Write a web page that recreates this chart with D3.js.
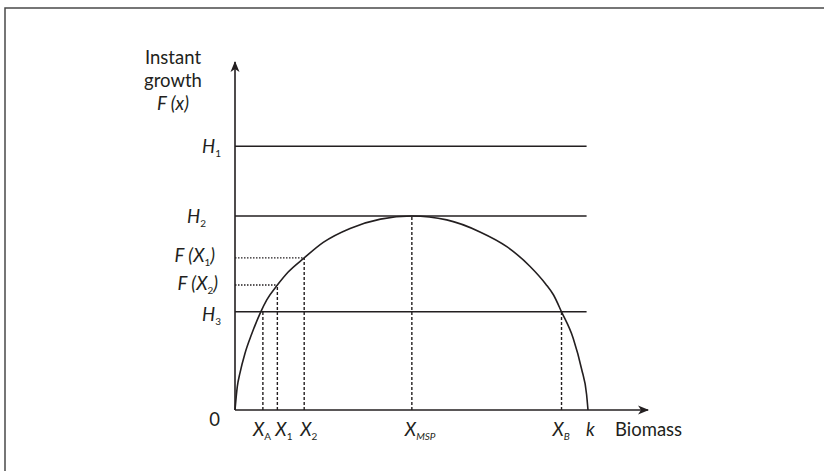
<!DOCTYPE html>
<html>
<head>
<meta charset="utf-8">
<script src="https://cdn.jsdelivr.net/npm/d3@7/dist/d3.min.js"></script>
<style>
  body { margin: 0; background: #fff; }
  svg { display: block; }
  text { font-family: Lato, "Liberation Sans", sans-serif; fill: #231f20; }
</style>
</head>
<body>
<div id="chart"></div>
<script>
// growth curve F(x) (biomass units, k = 100)
var curveX = [0, 0.65, 1.4, 2.8, 4.7, 7.3, 9, 12, 15, 19.6, 25, 32.6, 41.2, 50.1, 60, 69.4, 77, 83.6, 88, 90.2, 92.5, 95.8, 98.2, 99.6, 100];
var curveY = [0, 6, 9.5, 14.5, 19.5, 25.3, 28.4, 32.2, 35.5, 39.2, 43.2, 46.8, 49.2, 50, 49, 45.9, 42.1, 37, 32.5, 29.7, 25.3, 18.5, 10.5, 4, 0];

// harvest levels (solid horizontals)
var harvestNames = [["H", "1"], ["H", "2"], ["H", "3"]];
var harvestValues = [68, 50, 25.3];
var harvestEnd = 99.6;

// growth levels (dotted horizontals) and where they meet the curve
var growthNames = [["F (X", "1", ")"], ["F (X", "2", ")"]];
var growthValues = [39.2, 32.2];
var growthReach = [19.6, 12];

// biomass points (dashed verticals) and their height
var biomassNames = [["X", "A"], ["X", "1"], ["X", "2"], ["X", "MSP"], ["X", "B"], ["k", ""]];
var biomassValues = [7.9, 12, 19.6, 50.1, 92.5, 100];
var biomassHeights = [25.3, 32.2, 39.2, 50, 25.3, 0];

// axis extents
var xAxisMax = 117;
var yAxisMax = 89.7;

var width = 824, height = 471;

var svg = d3.select("#chart")
  .append("svg")
    .attr("width", width)
    .attr("height", height);

var x = d3.scaleLinear().domain([0, 100]).range([235, 588]);
var y = d3.scaleLinear().domain([0, 50]).range([410, 216]);

var ink = "#231f20";

// frame (left and top edge)
svg.append("path")
  .attr("d", "M5,471 L5,8 L824,8")
  .attr("fill", "none")
  .attr("stroke", "#4a4a4a")
  .attr("stroke-width", 1.5);

// arrow head
svg.append("defs").append("marker")
    .attr("id", "arrow")
    .attr("viewBox", "-12 -6 14 12")
    .attr("refX", 0)
    .attr("refY", 0)
    .attr("markerWidth", 14)
    .attr("markerHeight", 12)
    .attr("markerUnits", "userSpaceOnUse")
    .attr("orient", "auto")
  .append("path")
    .attr("d", "M1,0 L-10,-4.5 L-7,0 L-10,4.5 Z")
    .attr("fill", ink);

// axes
svg.append("line")
  .attr("x1", x(0)).attr("y1", y(0))
  .attr("x2", x(0)).attr("y2", y(yAxisMax))
  .attr("stroke", ink).attr("stroke-width", 1.6)
  .attr("marker-end", "url(#arrow)");
svg.append("line")
  .attr("x1", x(0)).attr("y1", y(0))
  .attr("x2", x(xAxisMax)).attr("y2", y(0))
  .attr("stroke", ink).attr("stroke-width", 1.6)
  .attr("marker-end", "url(#arrow)");

// harvest lines
svg.selectAll(".harvest")
  .data(harvestValues)
  .enter().append("line")
    .attr("class", "harvest")
    .attr("x1", x(0)).attr("x2", x(harvestEnd))
    .attr("y1", function(d) { return y(d); })
    .attr("y2", function(d) { return y(d); })
    .attr("stroke", ink).attr("stroke-width", 1.5);

// dotted growth levels
svg.selectAll(".growth")
  .data(growthValues)
  .enter().append("line")
    .attr("class", "growth")
    .attr("x1", x(0))
    .attr("x2", function(d, i) { return x(growthReach[i]); })
    .attr("y1", function(d) { return y(d); })
    .attr("y2", function(d) { return y(d); })
    .attr("stroke", ink).attr("stroke-width", 1.4)
    .attr("stroke-dasharray", "1.5,1.5");

// dashed biomass verticals
svg.selectAll(".biomass")
  .data(biomassValues.slice(0, 5))
  .enter().append("line")
    .attr("class", "biomass")
    .attr("x1", function(d) { return x(d); })
    .attr("x2", function(d) { return x(d); })
    .attr("y1", y(0))
    .attr("y2", function(d, i) { return y(biomassHeights[i]); })
    .attr("stroke", ink).attr("stroke-width", 1.4)
    .attr("stroke-dasharray", "3,2");

// the growth curve
var line = d3.line()
  .x(function(d) { return x(d[0]); })
  .y(function(d) { return y(d[1]); })
  .curve(d3.curveMonotoneX);

svg.append("path")
  .datum(d3.zip(curveX, curveY))
  .attr("d", line)
  .attr("fill", "none")
  .attr("stroke", ink)
  .attr("stroke-width", 1.6);

// label helper: main text, subscript, tail
function label(sel, parts, italicSub) {
  sel.append("tspan").text(parts[0]);
  if (parts[1]) {
    sel.append("tspan")
      .attr("font-size", 10)
      .attr("dy", 4)
      .attr("font-style", italicSub ? "italic" : "normal")
      .text(parts[1]);
  }
  if (parts[2]) {
    sel.append("tspan").attr("dy", -4).text(parts[2]);
  }
}

// y labels
var yLabelParts = [harvestNames[0], harvestNames[1], growthNames[0], growthNames[1], harvestNames[2]];
var yLabelValues = [harvestValues[0], harvestValues[1], growthValues[0], growthValues[1], harvestValues[2]];
var yLabelRight = [221, 206, 215, 218, 221];
var yLabelDy = [7, 7, 4, 5, 9];

yLabelParts.forEach(function(p, i) {
  var t = svg.append("text")
    .attr("x", yLabelRight[i])
    .attr("y", y(yLabelValues[i]) + yLabelDy[i])
    .attr("text-anchor", "end")
    .attr("font-size", 18.5)
    .attr("font-style", "italic");
  label(t, p, false);
});

// x labels
var xLabelDx = [-10, -2, -4, -7, -9, -2];
biomassNames.forEach(function(p, i) {
  var t = svg.append("text")
    .attr("x", x(biomassValues[i]) + xLabelDx[i])
    .attr("y", 436)
    .attr("font-size", 18.5)
    .attr("font-style", "italic");
  label(t, p, i >= 3);
});

// origin
svg.append("text")
  .attr("x", x(0) - 20.5)
  .attr("y", y(0) + 16)
  .attr("text-anchor", "middle")
  .attr("font-size", 18.5)
  .text("0");

// axis titles
svg.append("text")
  .attr("x", 615).attr("y", 436)
  .attr("font-size", 18.5)
  .text("Biomass");

var yTitle = ["Instant", "growth", "F (x)"];
yTitle.forEach(function(s, i) {
  svg.append("text")
    .attr("x", 173)
    .attr("y", 64 + i * 23)
    .attr("text-anchor", "middle")
    .attr("font-size", 18.5)
    .attr("font-style", i == 2 ? "italic" : "normal")
    .text(s);
});
</script>
</body>
</html>
